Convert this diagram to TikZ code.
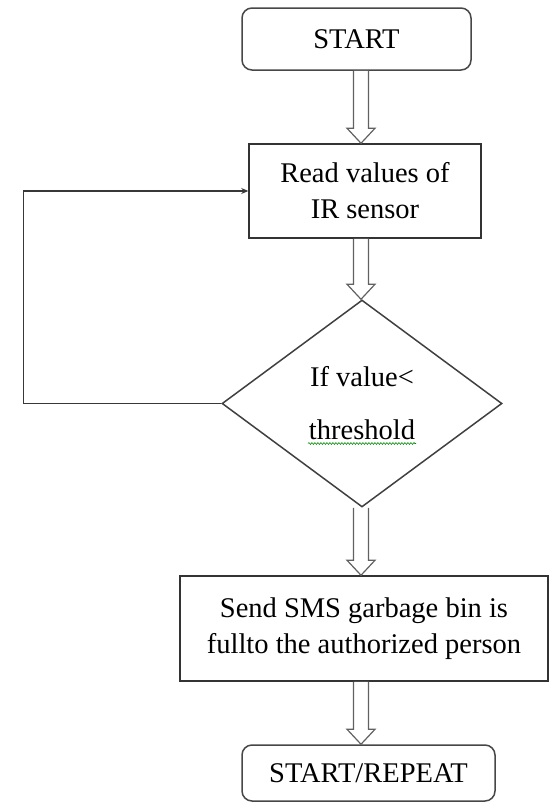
\documentclass[tikz,border=0pt]{standalone}
\usepackage{fontspec}
\setmainfont{Liberation Serif}
\usetikzlibrary{shapes.geometric}
\usetikzlibrary{calc}
\usetikzlibrary{arrows.meta}
\usetikzlibrary{decorations.pathmorphing}

\tikzset{
  terminal/.style={draw=black!72, line width=1.5pt, rounded corners=10pt, inner sep=0pt},
  process/.style={draw=black!80, line width=1.5pt, align=center, inner sep=0pt},
  decision/.style={diamond, draw=black!75, line width=1.5pt, align=center, inner sep=0pt},
  hollow/.style={draw=black!62, line width=1.2pt, fill=white, line join=miter},
  loopline/.style={draw=black!78, line width=1.5pt, -{Stealth[length=7pt,width=6pt]}},
}

% hollow block arrow between two nodes, on the common axis
\newcommand{\hollowarrow}[2]{%
  \draw[hollow] ($(#1.south -| axis)+(-7.5,0)$) -- ($(#2.north -| axis)+(-7.5,-15)$)
    -- ($(#2.north -| axis)+(-14,-15)$) -- (#2.north -| axis)
    -- ($(#2.north -| axis)+(14,-15)$) -- ($(#2.north -| axis)+(7.5,-15)$)
    -- ($(#1.south -| axis)+(7.5,0)$);}

\begin{document}
\begin{tikzpicture}[x=1pt, y=-1pt, font=\fontsize{28.5}{36}\selectfont]

\useasboundingbox (0,0) rectangle (550,803);
\coordinate (axis) at (361,0);

\node[terminal, minimum width=229pt, minimum height=62pt] (start) at (356.5,39) {START};
\node[process, minimum width=232pt, minimum height=94pt] (read) at (365,191) {Read values of\\IR sensor};
\node[decision, minimum width=280pt, minimum height=207pt, font=\fontsize{28.5}{53}\selectfont] (dec) at (362,403.5) {If value<\\threshold};
\node[process, minimum width=368pt, minimum height=105pt] (send) at (364,628.5) {Send SMS garbage bin is\\fullto the authorized person};
\node[terminal, minimum width=253pt, minimum height=56pt] (again) at (368.5,773) {START/REPEAT};

% spell check line
\draw[green!55!black, line width=0.6pt, decorate, decoration={snake, amplitude=0.9pt, segment length=3pt}]
  ($(dec.center)+(-54,40)$) -- ($(dec.center)+(54,40)$);

\hollowarrow{start}{read}
\hollowarrow{read}{dec}
\hollowarrow{dec}{send}
\hollowarrow{send}{again}

\draw[loopline] (dec.west) -- ++(-198,0) |- (read.west);

\end{tikzpicture}
\end{document}
